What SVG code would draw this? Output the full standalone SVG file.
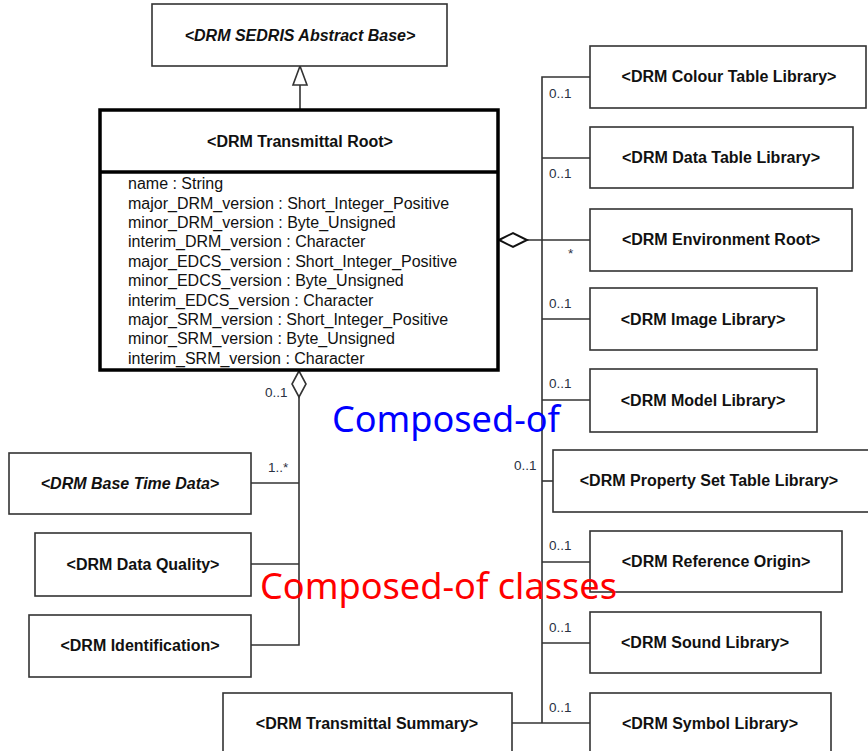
<svg xmlns="http://www.w3.org/2000/svg" width="868" height="751" viewBox="0 0 868 751">
<style>
.box{fill:#fff;stroke:#333;stroke-width:1.6}
.root{fill:#fff;stroke:#000;stroke-width:3.5}
.nm{font-family:"Liberation Sans",Arial,sans-serif;font-size:16px;font-weight:bold;fill:#111;text-anchor:middle}
.it{font-style:italic}
.at{font-family:"Liberation Sans",Arial,sans-serif;font-size:16px;fill:#111}
.mul{font-family:"Liberation Sans",Arial,sans-serif;font-size:13.5px;fill:#2a3142}
.ln{fill:none;stroke:#333;stroke-width:1.6}
.ov{font-family:"Noto Sans","Open Sans",sans-serif;font-size:36px}
</style>
<g id="connectors">
<line class="ln" x1="300" y1="85" x2="300" y2="110"/>
<polygon points="300,66 293,85 307,85" fill="#fff" stroke="#333" stroke-width="1.6"/>
<line class="ln" x1="527" y1="240" x2="590" y2="240"/>
<polygon points="499,240 513,233 527,240 513,247" fill="#fff" stroke="#111" stroke-width="2"/>
<polyline class="ln" points="590,77 542,77 542,723"/>
<line class="ln" x1="542" y1="158" x2="590" y2="158"/>
<line class="ln" x1="542" y1="319" x2="590" y2="319"/>
<line class="ln" x1="542" y1="400" x2="590" y2="400"/>
<line class="ln" x1="542" y1="481" x2="553" y2="481"/>
<line class="ln" x1="542" y1="562" x2="590" y2="562"/>
<line class="ln" x1="542" y1="643" x2="590" y2="643"/>
<line class="ln" x1="512" y1="723" x2="590" y2="723"/>
<polyline class="ln" points="251,645 299,645 299,397"/>
<polygon points="299,371 292,384 299,397 306,384" fill="#fff" stroke="#333" stroke-width="1.6"/>
<line class="ln" x1="251" y1="483" x2="299" y2="483"/>
<line class="ln" x1="251" y1="564" x2="299" y2="564"/>
<text class="mul" x="549" y="98">0..1</text>
<text class="mul" x="549" y="178">0..1</text>
<text class="mul" x="568" y="258">*</text>
<text class="mul" x="549" y="308">0..1</text>
<text class="mul" x="549" y="388">0..1</text>
<text class="mul" x="514" y="470">0..1</text>
<text class="mul" x="549" y="550">0..1</text>
<text class="mul" x="549" y="632">0..1</text>
<text class="mul" x="549" y="712">0..1</text>
<text class="mul" x="265" y="397">0..1</text>
<text class="mul" x="268" y="472">1..*</text>
</g>
<g id="sedris-base">
<rect class="box" x="152" y="4" width="295" height="62"/>
<text class="nm it" x="300" y="41">&lt;DRM SEDRIS Abstract Base&gt;</text>
</g>
<g id="transmittal-root">
<rect class="root" x="100" y="110" width="398" height="260"/>
<line x1="100" y1="172" x2="498" y2="172" stroke="#000" stroke-width="3.5"/>
<text class="nm" x="300" y="147">&lt;DRM Transmittal Root&gt;</text>
<text class="at" x="128" y="189">name : String</text>
<text class="at" x="128" y="208.5">major_DRM_version : Short_Integer_Positive</text>
<text class="at" x="128" y="228">minor_DRM_version : Byte_Unsigned</text>
<text class="at" x="128" y="247">interim_DRM_version : Character</text>
<text class="at" x="128" y="266.5">major_EDCS_version : Short_Integer_Positive</text>
<text class="at" x="128" y="286">minor_EDCS_version : Byte_Unsigned</text>
<text class="at" x="128" y="305.5">interim_EDCS_version : Character</text>
<text class="at" x="128" y="325">major_SRM_version : Short_Integer_Positive</text>
<text class="at" x="128" y="344">minor_SRM_version : Byte_Unsigned</text>
<text class="at" x="128" y="363.5">interim_SRM_version : Character</text>
</g>
<g id="colour-table-library">
<rect class="box" x="590" y="46" width="276" height="62"/>
<text class="nm" x="729" y="82">&lt;DRM Colour Table Library&gt;</text>
</g>
<g id="data-table-library">
<rect class="box" x="590" y="127" width="263" height="61"/>
<text class="nm" x="721" y="163">&lt;DRM Data Table Library&gt;</text>
</g>
<g id="environment-root">
<rect class="box" x="590" y="209" width="262" height="62"/>
<text class="nm" x="721" y="245">&lt;DRM Environment Root&gt;</text>
</g>
<g id="image-library">
<rect class="box" x="590" y="288" width="227" height="62"/>
<text class="nm" x="703" y="325">&lt;DRM Image Library&gt;</text>
</g>
<g id="model-library">
<rect class="box" x="590" y="369" width="227" height="63"/>
<text class="nm" x="703" y="406">&lt;DRM Model Library&gt;</text>
</g>
<g id="property-set-table-library">
<rect class="box" x="553" y="450" width="320" height="62"/>
<text class="nm" x="709" y="486">&lt;DRM Property Set Table Library&gt;</text>
</g>
<g id="reference-origin">
<rect class="box" x="590" y="531" width="252" height="61"/>
<text class="nm" x="716" y="567">&lt;DRM Reference Origin&gt;</text>
</g>
<g id="sound-library">
<rect class="box" x="590" y="612" width="231" height="61"/>
<text class="nm" x="705" y="648">&lt;DRM Sound Library&gt;</text>
</g>
<g id="symbol-library">
<rect class="box" x="590" y="693" width="241" height="70"/>
<text class="nm" x="710" y="729">&lt;DRM Symbol Library&gt;</text>
</g>
<g id="transmittal-summary">
<rect class="box" x="223" y="693" width="289" height="70"/>
<text class="nm" x="367" y="729">&lt;DRM Transmittal Summary&gt;</text>
</g>
<g id="base-time-data">
<rect class="box" x="9" y="453" width="242" height="61"/>
<text class="nm it" x="130" y="489">&lt;DRM Base Time Data&gt;</text>
</g>
<g id="data-quality">
<rect class="box" x="35" y="533" width="216" height="63"/>
<text class="nm" x="143" y="570">&lt;DRM Data Quality&gt;</text>
</g>
<g id="identification">
<rect class="box" x="29" y="615" width="222" height="62"/>
<text class="nm" x="140" y="651">&lt;DRM Identification&gt;</text>
</g>
<g id="annotations">
<text class="ov" x="332" y="432" fill="#0000ff" textLength="228" lengthAdjust="spacingAndGlyphs">Composed-of</text>
<text class="ov" x="260" y="599" fill="#ff0000" textLength="357" lengthAdjust="spacingAndGlyphs">Composed-of classes</text>
</g>
</svg>
